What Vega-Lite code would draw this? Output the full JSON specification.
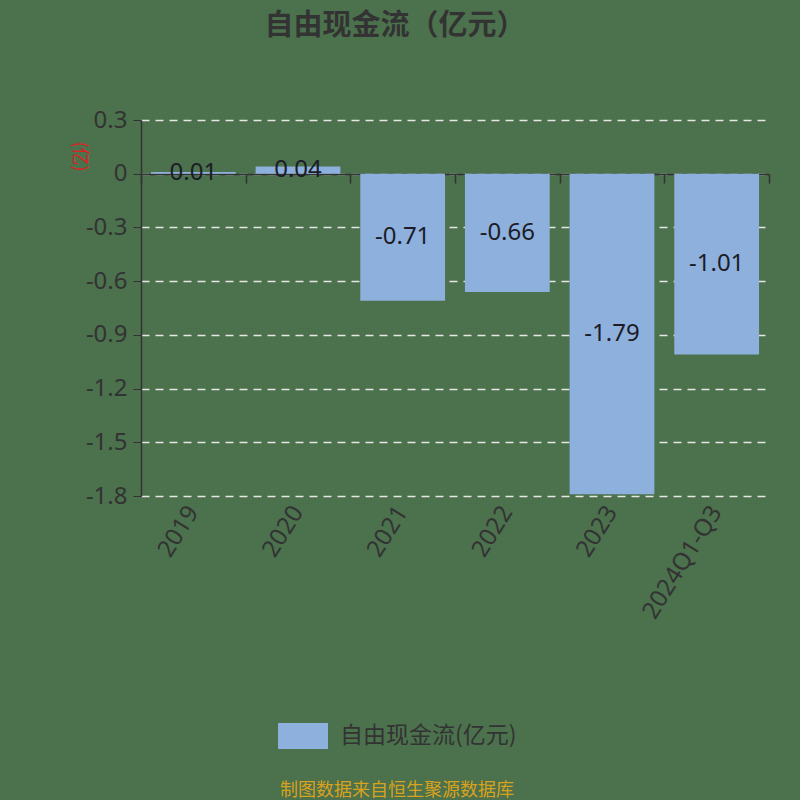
{
  "$schema": "https://vega.github.io/schema/vega-lite/v6.json",
  "width": 628,
  "height": 376,
  "autosize": {"type": "none"},
  "padding": {"left": 141, "top": 120, "right": 31, "bottom": 304},
  "background": "#4b714d",
  "config": {
    "view": {"stroke": null},
    "locale": {"number": {"decimal": ".", "thousands": ",", "grouping": [3], "currency": ["", ""], "minus": "-"}}
  },
  "title": {
    "text": "自由现金流（亿元）",
    "font": "Noto Sans CJK SC",
    "fontSize": 29,
    "fontWeight": "bold",
    "color": "#333333",
    "anchor": "middle",
    "dx": -60,
    "offset": 67
  },
  "data": {
    "values": [
      {"year": "2019", "value": 0.01},
      {"year": "2020", "value": 0.04},
      {"year": "2021", "value": -0.71},
      {"year": "2022", "value": -0.66},
      {"year": "2023", "value": -1.79},
      {"year": "2024Q1-Q3", "value": -1.01}
    ]
  },
  "resolve": {"axis": {"x": "independent", "y": "independent"}},
  "layer": [
    {
      "mark": {"type": "bar", "width": {"band": 0.81}},
      "encoding": {
        "x": {
          "field": "year",
          "type": "nominal",
          "sort": null,
          "scale": {"paddingInner": 0, "paddingOuter": 0},
          "axis": {
            "orient": "bottom",
            "title": null,
            "domain": false,
            "ticks": false,
            "grid": false,
            "labelAngle": -58,
            "labelAlign": "right",
            "labelBaseline": "middle",
            "labelFont": "Noto Sans",
            "labelFontSize": 24,
            "labelColor": "#333333",
            "labelPadding": 12,
            "labelLimit": 300
          }
        },
        "y": {
          "field": "value",
          "type": "quantitative",
          "scale": {"domain": [-1.8, 0.3], "nice": false, "zero": false},
          "axis": {
            "orient": "left",
            "values": [-1.8, -1.5, -1.2, -0.9, -0.6, -0.3, 0, 0.3],
            "format": ".1~f",
            "domain": true,
            "domainColor": "#333333",
            "domainWidth": 1.5,
            "ticks": true,
            "tickSize": 8,
            "tickColor": "#333333",
            "labelFont": "Noto Sans",
            "labelFontSize": 24,
            "labelColor": "#333333",
            "labelPadding": 6,
            "grid": true,
            "gridDash": [8, 6],
            "gridColor": "#e6e6e6",
            "gridWidth": 1.5,
            "title": "(亿)",
            "titleFont": "Noto Sans CJK SC",
            "titleFontSize": 18,
            "titleFontWeight": "normal",
            "titleColor": "#e02020",
            "titleAngle": 90,
            "titleAlign": "center",
            "titleBaseline": "middle",
            "titleX": -63,
            "titleY": 36
          }
        },
        "color": {
          "datum": "自由现金流(亿元)",
          "scale": {"range": ["#8eb0dc"]},
          "legend": {
            "orient": "none",
            "legendX": 137,
            "legendY": 591,
            "title": "制图数据来自恒生聚源数据库",
            "titleOrient": "bottom",
            "titleAnchor": "middle",
            "titleColor": "#d9a21c",
            "titleFont": "Noto Sans CJK SC",
            "titleFontSize": 18,
            "titleFontWeight": "normal",
            "titlePadding": 33,
            "titleLimit": 500,
            "labelFont": "Noto Sans CJK SC",
            "labelFontSize": 23,
            "labelColor": "#333333",
            "labelOffset": 12,
            "labelLimit": 400,
            "symbolType": "M-1,-0.52L1,-0.52L1,0.52L-1,0.52Z",
            "symbolSize": 2500,
            "symbolStrokeWidth": 0,
            "symbolOpacity": 1
          }
        }
      }
    },
    {
      "transform": [{"calculate": "datum.value / 2", "as": "mid"}],
      "mark": {"type": "text", "font": "Noto Sans", "fontSize": 24, "color": "#1c1c28", "align": "center", "baseline": "middle"},
      "encoding": {
        "x": {
          "field": "year",
          "type": "nominal",
          "sort": null,
          "axis": {
            "orient": "bottom",
            "offset": -322,
            "title": null,
            "labels": false,
            "grid": false,
            "domain": true,
            "domainColor": "#333333",
            "domainWidth": 1.5,
            "ticks": true,
            "tickBand": "extent",
            "tickSize": 9,
            "tickColor": "#333333",
            "tickWidth": 1.5
          }
        },
        "y": {"field": "mid", "type": "quantitative", "axis": null},
        "text": {"field": "value", "type": "quantitative", "format": ".2f"}
      }
    }
  ]
}
